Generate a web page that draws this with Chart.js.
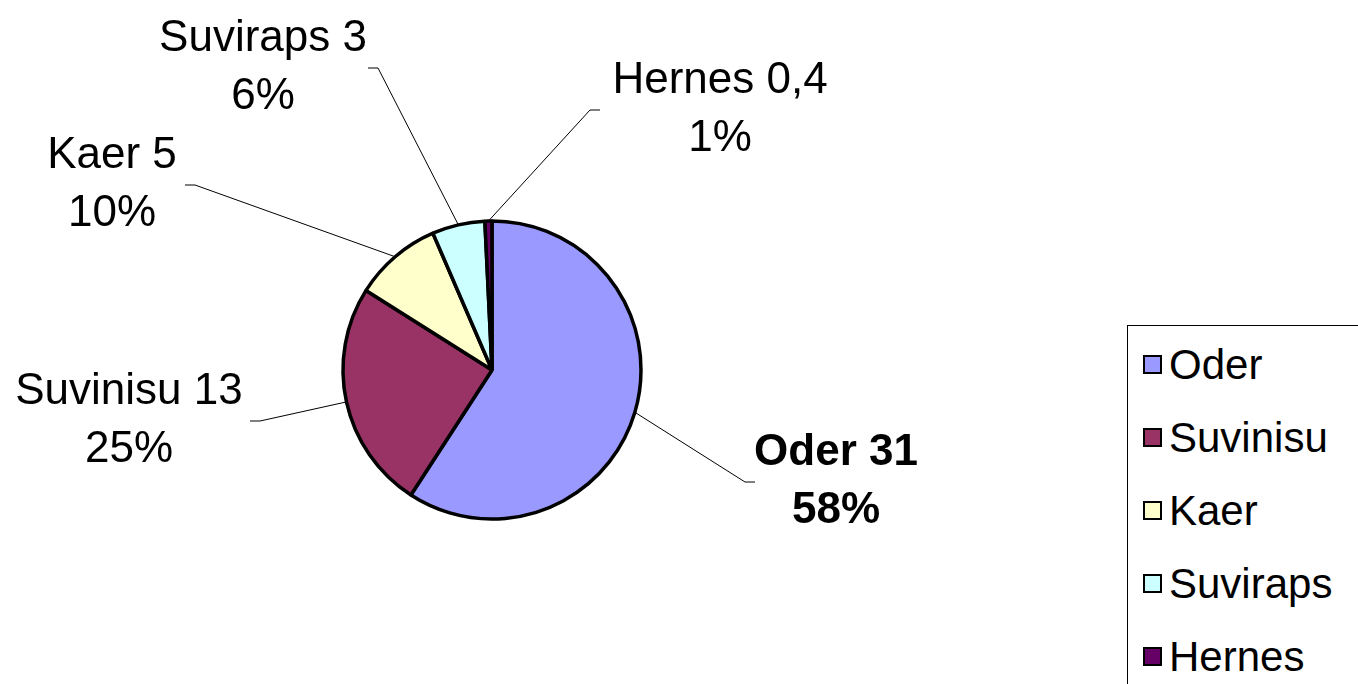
<!DOCTYPE html>
<html lang="et">
<head>
    <meta charset="UTF-8">
    <title>Külvipind</title>
    <script src="https://cdn.jsdelivr.net/npm/chart.js"></script>
    <style>
* {
    margin: 0;
    padding: 0;
    box-sizing: border-box;
}
body {
    background: #ffffff;
    width: 1358px;
    height: 684px;
    overflow: hidden;
    position: relative;
    font-family: 'Liberation Sans', Arial, sans-serif;
}
#wrap {
    position: absolute;
    left: 0;
    top: 0;
    width: 1358px;
    height: 684px;
}
#legend {
    position: absolute;
    left: 1127px;
    top: 325px;
    width: 260px;
    height: 400px;
    border: 1px solid #000;
    background: #fff;
    padding-top: 2px;
}
#legend .item {
    display: flex;
    align-items: center;
    height: 73px;
    font-size: 42px;
    color: #000;
}
#legend .box {
    width: 19px;
    height: 19px;
    border: 2px solid #000;
    margin-left: 15px;
    margin-right: 7px;
}
    </style>
</head>
<body>
    <div id="wrap"><canvas id="pie"></canvas></div>
    <div id="legend"></div>

    <script>
        // data
        const categories = ['Oder', 'Suvinisu', 'Kaer', 'Suviraps', 'Hernes'];
        const values = [31, 13, 5, 3, 0.4];
        const valueLabels = ['31', '13', '5', '3', '0,4'];
        const percentLabels = ['58%', '25%', '10%', '6%', '1%'];
        const colors = ['#9999FF', '#993366', '#FFFFCC', '#CCFFFF', '#660066'];

        // where the leader lines bend, relative to pie centre (px), and text centre x offset
        const labelLayout = [
            { ex: 253, ey: 112, tx: 344, bold: true },
            { ex: -232, ey: 51, tx: -363 },
            { ex: -297, ey: -185, tx: -380 },
            { ex: -114, ey: -302, tx: -229 },
            { ex: 98, ey: -260, tx: 228 }
        ];

        const labelPlugin = {
            id: 'leaderLabels',
            afterDatasetsDraw(chart) {
                const ctx = chart.ctx;
                const meta = chart.getDatasetMeta(0);
                ctx.save();
                meta.data.forEach((arc, i) => {
                    const p = arc.getProps(['x', 'y', 'startAngle', 'endAngle', 'outerRadius'], true);
                    const mid = (p.startAngle + p.endAngle) / 2;
                    const sx = p.x + Math.cos(mid) * p.outerRadius;
                    const sy = p.y + Math.sin(mid) * p.outerRadius;
                    const L = labelLayout[i];
                    const ex = p.x + L.ex, ey = p.y + L.ey;
                    const dir = L.tx > L.ex ? 1 : -1;
                    ctx.strokeStyle = '#000';
                    ctx.lineWidth = 1;
                    ctx.beginPath();
                    ctx.moveTo(sx, sy);
                    ctx.lineTo(ex, ey);
                    ctx.lineTo(ex + dir * 10, ey);
                    ctx.stroke();

                    ctx.fillStyle = '#000';
                    ctx.textAlign = 'center';
                    ctx.textBaseline = 'middle';
                    ctx.font = (L.bold ? 'bold ' : '') + "44px 'Liberation Sans', Arial, sans-serif";
                    const tx = p.x + L.tx;
                    ctx.fillText(categories[i] + ' ' + valueLabels[i], tx, ey - 29);
                    ctx.fillText(percentLabels[i], tx, ey + 29);
                });
                ctx.restore();
            }
        };

        new Chart(document.getElementById('pie'), {
            type: 'pie',
            data: {
                labels: categories,
                datasets: [{
                    data: values,
                    backgroundColor: colors,
                    borderColor: '#000',
                    borderWidth: 3.5
                }]
            },
            options: {
                responsive: true,
                maintainAspectRatio: false,
                animation: false,
                radius: 149,
                layout: { padding: { left: 0, right: 374, top: 56, bottom: 0 } },
                plugins: {
                    legend: { display: false },
                    tooltip: { enabled: false }
                }
            },
            plugins: [labelPlugin]
        });

        // legend box on the right
        const legend = document.getElementById('legend');
        categories.forEach((name, i) => {
            const item = document.createElement('div');
            item.className = 'item';
            const box = document.createElement('span');
            box.className = 'box';
            box.style.background = colors[i];
            const txt = document.createElement('span');
            txt.textContent = name;
            item.appendChild(box);
            item.appendChild(txt);
            legend.appendChild(item);
        });
    </script>
</body>
</html>
